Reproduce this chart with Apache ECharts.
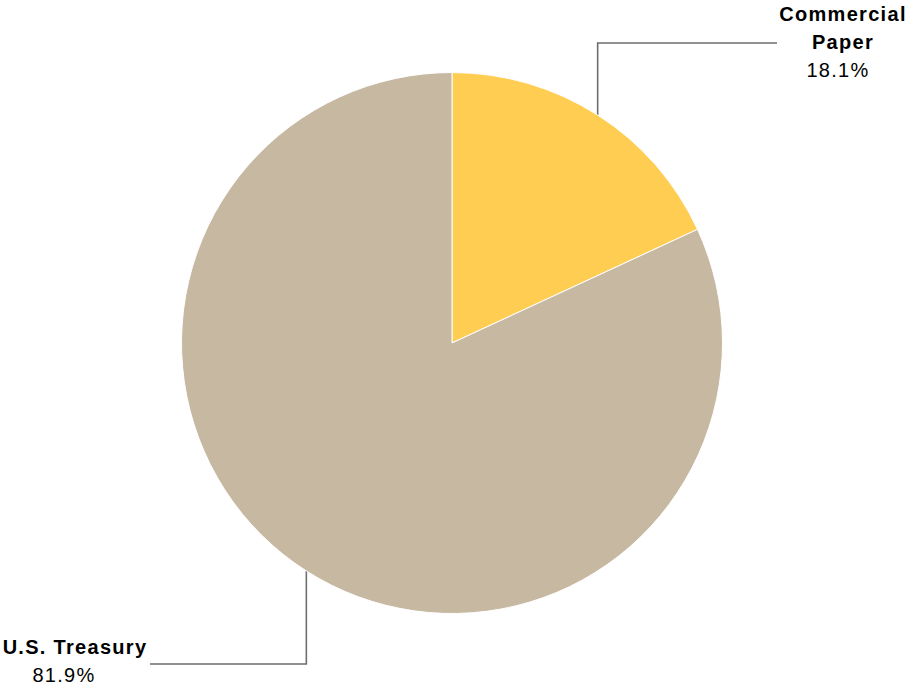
<!DOCTYPE html>
<html>
<head>
<meta charset="utf-8">
<script src="https://cdn.jsdelivr.net/npm/echarts@6/dist/echarts.min.js"></script>
<style>
  html, body { margin: 0; padding: 0; background: #fff; }
  #main { width: 909px; height: 686px; }
  #main text { letter-spacing: 1.3px; }
</style>
</head>
<body>
<div id="main"></div>
<script>
// Portfolio composition by security type
const categories = ['Commercial\nPaper', 'U.S. Treasury'];
const shares = [18.1, 81.9];
const colors = ['#FFCD52', '#C7B8A2'];

// Where each label block sits and where its elbow leader turns
const labelSpots = [
  { x: 843, y: 42, elbowY: 43, endX: 777, valuePad: 10 },
  { x: 75, y: 661, elbowY: 664, endX: 150, valuePad: 22 }
];

const chart = echarts.init(document.getElementById('main'), null, { renderer: 'svg' });

const data = categories.map((name, i) => ({
  name: name,
  value: shares[i],
  itemStyle: { color: colors[i] },
  label: {
    rich: {
      v: { fontSize: 20, fontWeight: 'normal', color: '#000', lineHeight: 28,
           fontFamily: 'Liberation Sans, Arial, sans-serif',
           padding: [0, labelSpots[i].valuePad, 0, 0] }
    }
  }
}));

chart.setOption({
  animation: false,
  backgroundColor: '#fff',
  series: [{
    type: 'pie',
    center: [452, 343],
    radius: 270.5,
    startAngle: 90,
    clockwise: true,
    data: data,
    itemStyle: { borderColor: '#fff', borderWidth: 1 },
    label: {
      show: true,
      position: 'outside',
      formatter: p => p.name.split('\n').map(s => '{n|' + s + '}').join('\n') +
        '\n{v|' + p.value.toFixed(1) + '%}',
      rich: {
        n: { fontSize: 20, fontWeight: 'bold', color: '#000', lineHeight: 28,
             fontFamily: 'Liberation Sans, Arial, sans-serif' }
      }
    },
    labelLine: {
      show: true,
      length: 10,
      length2: 10,
      lineStyle: { color: '#6e6e6e', width: 1.6 }
    },
    labelLayout: function (params) {
      const spot = labelSpots[params.dataIndex];
      const start = params.labelLinePoints[0];
      return {
        x: spot.x,
        y: spot.y,
        align: 'center',
        verticalAlign: 'middle',
        labelLinePoints: [
          [start[0], start[1]],
          [start[0], spot.elbowY],
          [spot.endX, spot.elbowY]
        ]
      };
    }
  }]
});
</script>
</body>
</html>
